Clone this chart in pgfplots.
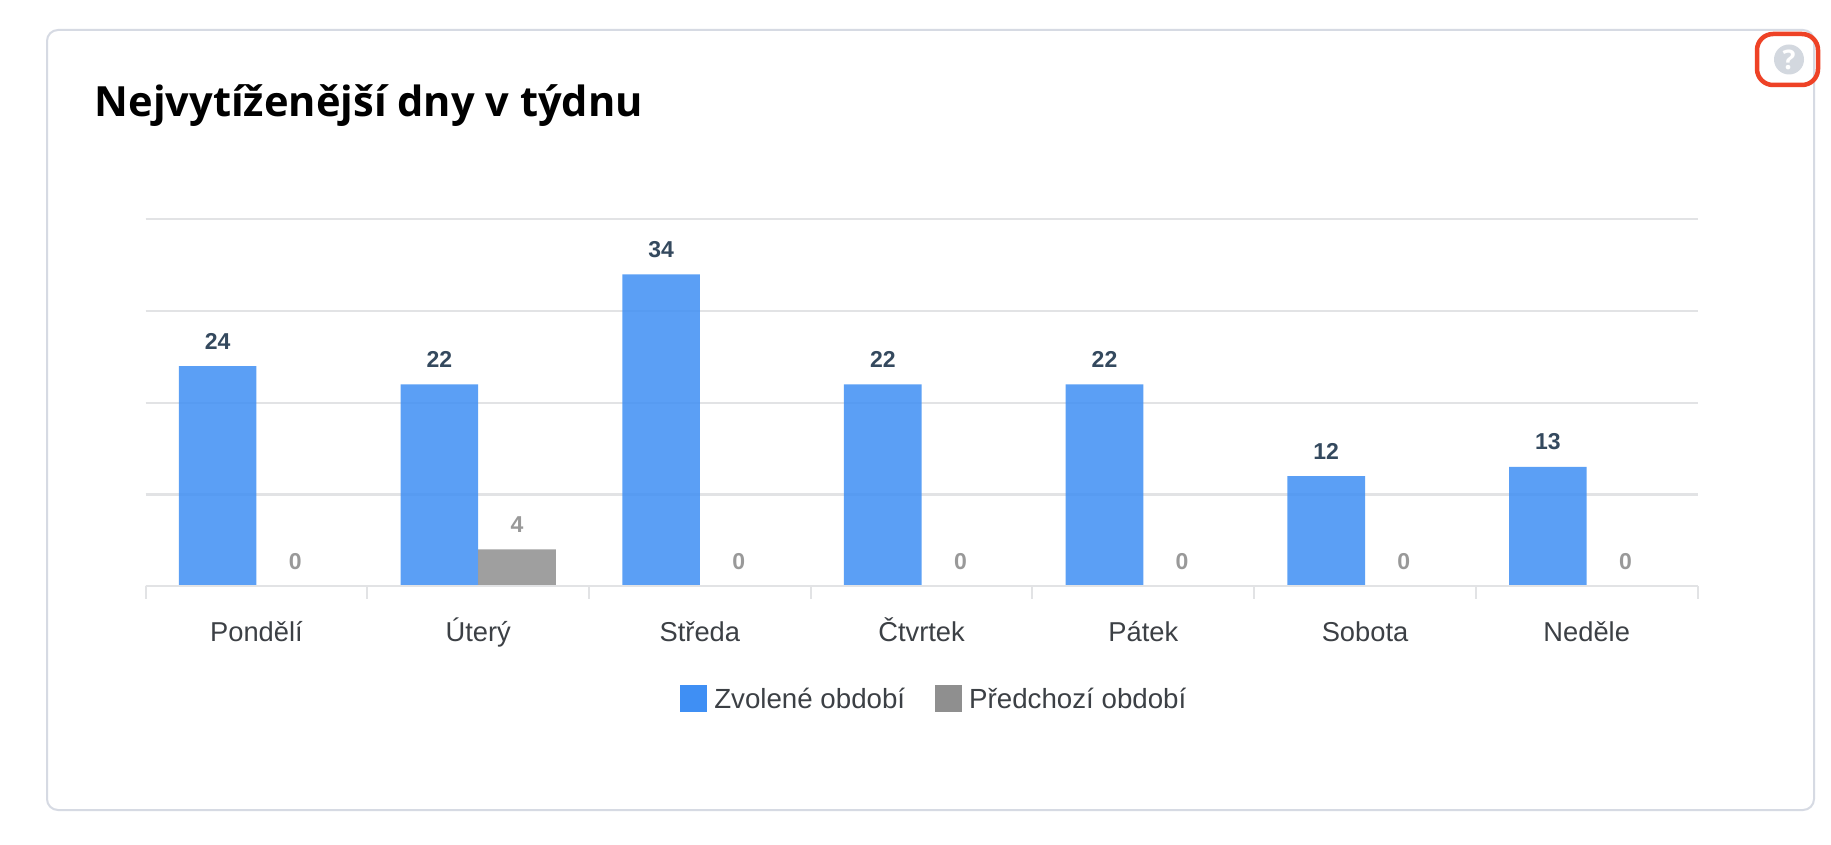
\documentclass[border=0pt]{standalone}
\usepackage{fontspec}
\setmainfont{Liberation Sans}
\newfontfamily\titlefont{Open Sans}
\usepackage{pgfplots}
\pgfplotsset{compat=1.18}
\definecolor{cardline}{HTML}{D6DAE3}
\definecolor{gridc}{HTML}{E2E3E5}
\definecolor{bluebar}{HTML}{3F8FF4}
\definecolor{greybar}{HTML}{8F8F8F}
\definecolor{vlabel}{HTML}{34495E}
\definecolor{glabel}{HTML}{999999}
\definecolor{txt}{HTML}{3C4045}
\definecolor{qcirc}{HTML}{D3D8DF}
\definecolor{redbox}{HTML}{EE4226}
\begin{document}
\begin{tikzpicture}[x=1pt,y=1pt]
\path[use as bounding box,fill=white] (0,0) rectangle (1831,844);
\draw[cardline,line width=2pt,rounded corners=11pt] (47,34) rectangle (1814,814);
\node[anchor=base west,inner sep=0pt,font=\titlefont\bfseries\fontsize{41.6}{44}\selectfont] at (94.5,727) {Nejvytíženější dny v týdnu};
\fill[qcirc] (1789,784.5) circle (15);
\node[text=white,font=\titlefont\bfseries\fontsize{27}{29}\selectfont,inner sep=0pt] at (1789,784.5) {?};
\draw[redbox,line width=4.5pt,rounded corners=16pt] (1757,759) rectangle (1818,810);
\begin{axis}[
  at={(145.6pt,257.9pt)},anchor=south west,
  scale only axis,width=1552pt,height=366.8pt,
  xmin=0,xmax=7,ymin=0,ymax=40,
  axis x line=bottom,axis y line=left,
  axis line style={-,gridc,line width=2pt},
  y axis line style={draw=none},
  xtick={0,1,2,3,4,5,6,7},
  x tick label as interval,
  xticklabels={Pondělí,Úterý,Středa,Čtvrtek,Pátek,Sobota,Neděle},
  xticklabel style={text=txt,font=\fontsize{27.3}{30}\selectfont,anchor=base,yshift=-42.5pt,inner sep=0pt},
  tick style={gridc,line width=2pt},
  ytick style={draw=none},
  yticklabels={},
  tick align=outside,
  major tick length=12.5pt,
  ytick={0,10,20,30,40},
  ymajorgrids,
  grid style={gridc,line width=2.2pt},
  ybar=0pt,bar width=0.35,
  /pgf/number format/assume math mode=true,
  nodes near coords,
  every node near coord/.append style={anchor=base,yshift=17pt,inner sep=0pt,text opacity=1,fill opacity=1},
  legend columns=2,
  legend cell align=left,
  legend image code/.code={\fill[#1,fill opacity=1,draw=none] (0pt,-13.5pt) rectangle (27pt,13.5pt);},
  legend style={at={(0.3445,-0.3067)},anchor=west,draw=none,fill=none,inner sep=0pt,outer sep=0pt,
    font=\fontsize{27.7}{30}\selectfont,text=txt,
    /tikz/every odd column/.style={column sep=7pt},
    /tikz/every even column/.style={column sep=30pt},
    nodes={inner sep=0pt}},
]
\addplot[fill=bluebar,draw=none,fill opacity=0.85,
  every node near coord/.append style={text=vlabel,font=\bfseries\fontsize{23}{25}\selectfont}]
  coordinates {(0.5,24) (1.5,22) (2.5,34) (3.5,22) (4.5,22) (5.5,12) (6.5,13)};
\addplot[fill=greybar,draw=none,fill opacity=0.85,
  every node near coord/.append style={text=glabel,font=\bfseries\fontsize{23}{25}\selectfont}]
  coordinates {(0.5,0) (1.5,4) (2.5,0) (3.5,0) (4.5,0) (5.5,0) (6.5,0)};
\legend{Zvolené období,Předchozí období}
\draw[gridc,line width=2.2pt] (axis cs:0,0) -- (axis cs:7,0);
\end{axis}
\end{tikzpicture}
\end{document}
